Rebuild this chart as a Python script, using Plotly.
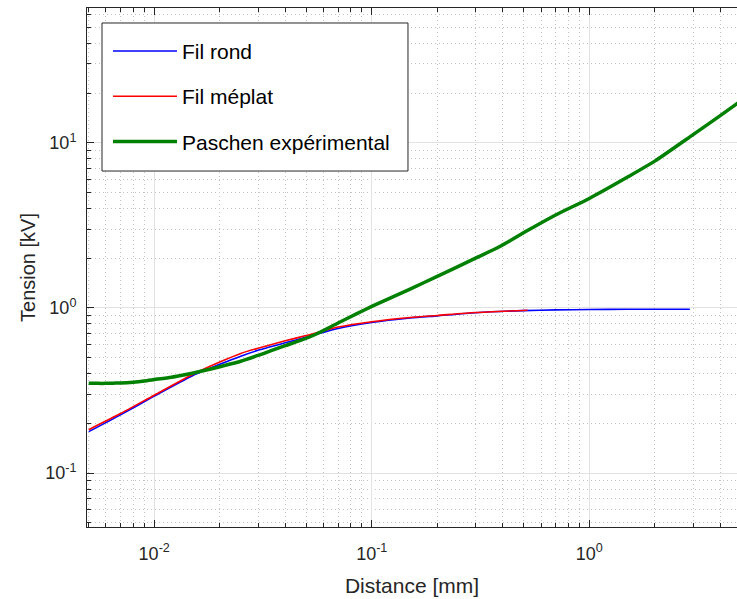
import plotly.graph_objects as go

# ---- data ----
dist_rond = [0.005, 0.007, 0.01, 0.015, 0.02, 0.025, 0.03, 0.04, 0.05, 0.07, 0.1, 0.15, 0.2, 0.3, 0.5, 0.7, 1.0, 1.5, 2.0, 2.9]
tension_rond = [0.178, 0.225, 0.292, 0.388, 0.455, 0.51, 0.553, 0.615, 0.665, 0.75, 0.815, 0.868, 0.895, 0.935, 0.963, 0.972, 0.977, 0.98, 0.981, 0.98]

dist_meplat = [0.005, 0.007, 0.01, 0.015, 0.02, 0.025, 0.03, 0.04, 0.05, 0.07, 0.1, 0.15, 0.2, 0.3, 0.52]
tension_meplat = [0.183, 0.229, 0.296, 0.395, 0.47, 0.53, 0.57, 0.632, 0.68, 0.765, 0.825, 0.875, 0.9, 0.937, 0.967]

dist_paschen = [0.005, 0.0055, 0.006, 0.0065, 0.007, 0.008, 0.009, 0.01, 0.012, 0.014, 0.016, 0.018,
                0.02, 0.025, 0.03, 0.035, 0.04, 0.047, 0.055, 0.07, 0.085, 0.1, 0.15, 0.2, 0.3, 0.39,
                0.53, 0.7, 1.0, 1.5, 2.0, 3.0, 4.0, 5.0]
tension_paschen = [0.35, 0.349, 0.349, 0.35, 0.351, 0.355, 0.361, 0.368, 0.38, 0.395, 0.41, 0.425,
                   0.44, 0.475, 0.515, 0.555, 0.59, 0.635, 0.69, 0.81, 0.92, 1.02, 1.30, 1.55, 2.0, 2.36,
                   2.98, 3.65, 4.6, 6.2, 7.74, 11.2, 14.6, 18.0]

x_tickvals = [0.01, 0.1, 1]
x_ticktext = ["10<sup>-2</sup>", "10<sup>-1</sup>", "10<sup>0</sup>"]
y_tickvals = [0.1, 1, 10]
y_ticktext = ["10<sup>-1</sup>", "10<sup>0</sup>", "10<sup>1</sup>"]

names = ["Fil rond", "Fil méplat", "Paschen expérimental"]

FONT = "Liberation Sans, Arial, sans-serif"
DARK = "#262626"

fig = go.Figure()
fig.add_trace(go.Scatter(x=dist_rond, y=tension_rond, mode="lines", name=names[0],
                         line=dict(color="#0000ff", width=1.6, shape="spline", smoothing=0.6),
                         legendgroup="a"))
fig.add_trace(go.Scatter(x=dist_meplat, y=tension_meplat, mode="lines", name=names[1],
                         line=dict(color="#ff0000", width=1.6, shape="spline", smoothing=0.6),
                         legendgroup="b"))
fig.add_trace(go.Scatter(x=dist_paschen, y=tension_paschen, mode="lines", name=names[2],
                         line=dict(color="#008000", width=3.5, shape="spline", smoothing=0.6),
                         legendgroup="c"))

minor_x = [m * 10 ** e for e in range(-3, 1) for m in range(2, 10)]
minor_y = [m * 10 ** e for e in range(-2, 2) for m in range(2, 10)]

minor_style = dict(ticks="inside", ticklen=4, tickcolor=DARK, tickwidth=1.3,
                   showgrid=True, gridcolor="#c4c4c4", griddash="1px,3px", gridwidth=1)

common = dict(
    type="log",
    automargin=False,
    showline=True, linecolor=DARK, linewidth=1,
    ticks="inside", ticklen=7, tickwidth=1.3, tickcolor=DARK,
    showgrid=True, gridcolor="#e2e2e2", gridwidth=1,
    zeroline=False,
    tickfont=dict(family=FONT, size=18, color=DARK),
)

fig.update_xaxes(
    **common,
    range=[-2.309, 0.679],
    tickvals=x_tickvals, ticktext=x_ticktext,
    mirror="ticks",
    title_text="Distance [mm]",
    title_font=dict(family=FONT, size=21, color=DARK),
    title_standoff=15,
    ticklabelstandoff=10,
    minor=dict(tickvals=minor_x, **minor_style),
)
fig.update_yaxes(
    **common,
    range=[-1.327, 1.816],
    tickvals=y_tickvals, ticktext=y_ticktext,
    title_text="Tension [kV]",
    title_font=dict(family=FONT, size=20, color=DARK),
    title_standoff=4,
    ticklabelstandoff=6,
    minor=dict(tickvals=minor_y, **minor_style),
)

# legend frame
fig.add_shape(type="rect", xref="paper", yref="paper",
              x0=0.0231, x1=0.4938, y0=0.6859, y1=0.9711,
              fillcolor="white", line=dict(color=DARK, width=1), layer="above")

fig.update_layout(
    width=737, height=599,
    margin=dict(l=87, r=0, t=8, b=72),
    paper_bgcolor="white", plot_bgcolor="white",
    font=dict(family=FONT, color=DARK),
    legend=dict(
        x=0.0323, y=0.956, xanchor="left", yanchor="top",
        bgcolor="rgba(0,0,0,0)", borderwidth=0,
        font=dict(family=FONT, size=21, color="black"),
        tracegroupgap=15, itemwidth=64,
    ),
    showlegend=True,
)

fig.write_html(
    "out.html",
    config={"displayModeBar": False},
    post_script="document.body.style.margin='0';document.body.style.overflow='hidden';",
)
